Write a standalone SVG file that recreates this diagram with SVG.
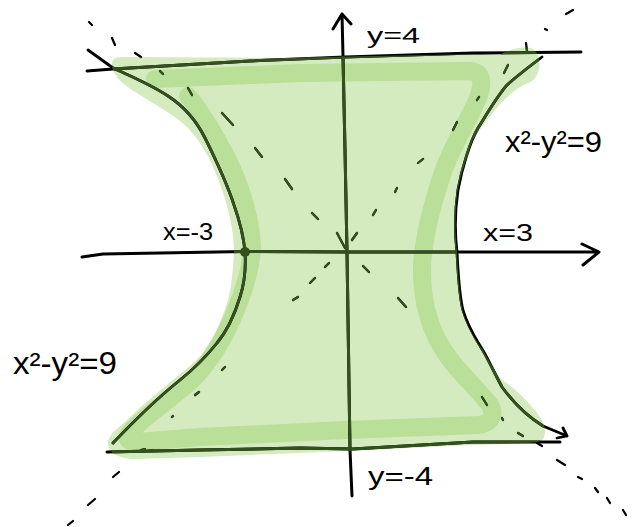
<svg xmlns="http://www.w3.org/2000/svg" xmlns:xlink="http://www.w3.org/1999/xlink" width="635" height="527" viewBox="0 0 635 527">
<style>
.lbl{font-family:"Liberation Sans","DejaVu Sans",sans-serif;fill:#000}
.ln{fill:none;stroke-linecap:round;stroke-linejoin:round}
.ax{stroke-width:3}
.hy{stroke-width:2.8}
.ds{stroke-width:2.2}
</style>
<defs>
<path id="fillShape" d="M112,64 C112,56 120,57 130,57 L280,58 L345,56.5 L480,54 L500,55 C505,51 520,46 530,48 C543,51 543,78 528,83 C516,88 505,98 495,110 C485,122 478,132 473,140 C468,155 460,175 457,195 C455,215 455,235 457,252 C458,270 459,290 462,308 C466,325 475,340 483,350 C490,362 495,372 502,380 C515,388 532,405 542,420 C547,430 546,440 538,442 L527,443 L450,446 L370,450 L200,457 L135,459 C118,459 108,452 108,444 C108,436 115,430 125,422 C150,397 180,375 200,357 C212,343 222,320 228,300 C232,285 233,268 234,252 C234,232 229,210 222,190 C212,160 200,140 188,128 C175,115 160,108 145,98 C128,88 112,78 112,64 Z"/>
<clipPath id="fillClip"><use xlink:href="#fillShape"/></clipPath>
<g id="lines" class="ln">
<!-- x axis -->
<path class="ax" d="M82,257 L103,254 L245,251.5 L347,252 L599,252 M582,244 L599,252 L583,265"/>
<!-- y axis -->
<path class="ax" d="M342,14 L343,56 L345,150 L347,252 L350,450 L352,496 M333,29 L342,14 L351,24"/>
<!-- y=4 -->
<path class="ax" d="M87,71 L113,69 L250,61 L345,57 L473,53 L581,52"/>
<!-- y=-4 -->
<path class="ax" d="M107,452 L200,450 L300,448 L353,449 L370,448 L473,442 L560,442"/>
<!-- left branch -->
<path class="hy" d="M88,50 L113,68 C130,76 150,84 168,96 C185,107 196,120 205,138 C215,158 226,180 234,205 C241,225 244,240 245,252 C246,268 244,285 240,297 C236,310 228,330 217,343 C205,358 195,368 180,380 C160,396 135,420 113,443"/>
<!-- right branch -->
<path class="hy" d="M542,57 C530,66 518,75 507,85 C498,95 488,112 478,128 C470,142 462,168 458,190 C455,210 455,235 457,252 C458,270 459,295 463,310 C468,328 478,342 485,354 C492,367 496,376 502,387 C510,398 525,415 543,426 L567,436 M563,428 L567,436 L557,438"/>
<!-- asymptote dashes -->
<path class="ds" d="M89,22 L92,25 M112,38 L115,45 M135,53 L141,57 M160,71 L163,74 M188,88 L192,95 M222,113 L233,125 M255,148 L262,157 M285,179 L292,189 M312,213 L318,219 M337,233 L345,248
M566,14 L573,10 M545,29 L547,30 M526,43 L527,51 M504,73 L508,65 M477,100 L479,97 M453,130 L457,122 M418,163 L423,159 M395,192 L397,188 M373,215 L376,210 M352,240 L357,233
M325,267 L329,263 M310,283 L315,278 M293,300 L298,297 M222,370 L225,367 M195,395 L199,392 M172,417 L173,416 M141,450 L145,449 M148,451 L153,450 M113,477 L119,472 M88,505 L95,499 M68,525 L73,521
M363,266 L369,272 M398,298 L406,307 M482,397 L487,405 M502,418 L503,420 M518,433 L523,436 M537,443 L542,446 M557,460 L565,465 M578,477 L582,479 M595,488 L598,492 M607,498 L610,503 M623,510 L626,515"/>
</g>
</defs>
<!-- shading -->
<use xlink:href="#fillShape" fill="#d4ebbf"/>
<path class="ln" stroke="#b9df98" stroke-width="18" d="M155,79 L300,73 L470,71 C482,72 484,82 478,98 C470,118 452,145 442,175 C432,205 424,235 422,265 C421,300 430,335 452,362 C465,378 480,392 490,405 C496,416 490,424 478,425 L345,430 L200,437 L138,442 C128,443 124,438 132,430 C150,412 172,398 192,380 C210,362 224,340 236,310 C246,285 252,265 252,245 C250,215 240,185 228,160 C215,135 200,110 188,96"/>
<!-- lines: black outside shading, dark green inside -->
<use xlink:href="#lines" stroke="#000"/>
<use xlink:href="#lines" stroke="#34501e" clip-path="url(#fillClip)"/>
<circle cx="245" cy="252" r="5" fill="#34501e"/>
<!-- labels -->
<text class="lbl" x="367" y="43" font-size="22" textLength="53" lengthAdjust="spacingAndGlyphs">y=4</text>
<text class="lbl" x="505" y="152" font-size="30" textLength="97" lengthAdjust="spacingAndGlyphs">x²-y²=9</text>
<text class="lbl" x="163" y="240" font-size="23" textLength="50" lengthAdjust="spacingAndGlyphs">x=-3</text>
<text class="lbl" x="483" y="241" font-size="24" textLength="50" lengthAdjust="spacingAndGlyphs">x=3</text>
<text class="lbl" x="13" y="374" font-size="31" textLength="104" lengthAdjust="spacingAndGlyphs">x²-y²=9</text>
<text class="lbl" x="368" y="485" font-size="25" textLength="65" lengthAdjust="spacingAndGlyphs">y=-4</text>
</svg>
